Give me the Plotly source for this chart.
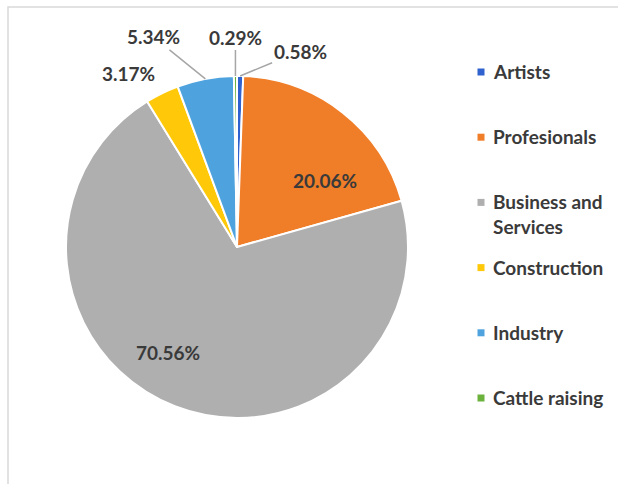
import math
import plotly.graph_objects as go

# Share of registered activities by sector (%)
categories = ["Artists", "Profesionals", "Business and Services",
              "Construction", "Industry", "Cattle raising"]
shares = [0.58, 20.06, 70.56, 3.17, 5.34, 0.29]
legend_labels = ["Artists", "Profesionals", "Business and<br>Services",
                 "Construction", "Industry", "Cattle raising"]
slice_colors = ["#2F62CF", "#F07D28", "#AFAFAF", "#FFC90A", "#4EA3DF", "#6AB23C"]

W, H = 618, 484
CX, CY, R = 237, 247, 171          # pie centre / radius in pixels
TEXT = "#3A3A3A"
FONT = "Lato"
FSIZE = 19

# label placement per slice: inside labels sit at a radial fraction,
# outside labels are offset from the rim (optionally with a leader line)
label_style = [
    dict(kind="out", ax=60, ay=-25, arrow=True),    # Artists
    dict(kind="in", frac=0.64, dx=20, dy=20),       # Profesionals
    dict(kind="in", frac=0.66, dx=-28, dy=0),       # Business and Services
    dict(kind="out", ax=-34, ay=-20, arrow=False),  # Construction
    dict(kind="out", ax=-52, ay=-42, arrow=True),   # Industry
    dict(kind="out", ax=0, ay=-39, arrow=True),     # Cattle raising
]

fig = go.Figure(go.Pie(
    labels=categories,
    values=shares,
    sort=False,
    direction="clockwise",
    rotation=0,
    marker=dict(colors=slice_colors, line=dict(color="white", width=2)),
    textinfo="none",
    hoverinfo="label+percent",
    showlegend=False,
    domain=dict(x=[(CX - R) / W, (CX + R) / W],
                y=[(H - CY - R) / H, (H - CY + R) / H]),
))


def to_paper(px, py):
    return px / W, 1 - py / H


label_font = dict(family=FONT, size=FSIZE, color=TEXT, weight="bold")

total = sum(shares)
start = 0.0
annotations = []
for val, st in zip(shares, label_style):
    span = val / total * 360.0
    mid = math.radians(start + span / 2)
    start += span
    text = f"{val:.2f}%"
    if st["kind"] == "in":
        px = CX + st["frac"] * R * math.sin(mid)
        py = CY - st["frac"] * R * math.cos(mid)
        x, y = to_paper(px + st["dx"], py + st["dy"])
        annotations.append(dict(x=x, y=y, xref="paper", yref="paper", text=text,
                                xanchor="center", yanchor="middle",
                                showarrow=False, font=label_font))
    else:
        px = CX + R * math.sin(mid)
        py = CY - R * math.cos(mid)
        x, y = to_paper(px, py)
        annotations.append(dict(x=x, y=y, xref="paper", yref="paper", text=text,
                                showarrow=True, ax=st["ax"], ay=st["ay"],
                                arrowhead=0, arrowwidth=1.5, standoff=0,
                                arrowcolor="#A6A6A6" if st["arrow"] else "rgba(0,0,0,0)",
                                font=label_font))

# legend drawn as colour squares with labels beside them
shapes = []
LEG_X, LEG_Y0, LEG_STEP, SQ = 481, 72, 65.2, 7
for i, (name, col) in enumerate(zip(legend_labels, slice_colors)):
    yc = LEG_Y0 + i * LEG_STEP
    x0, y0 = to_paper(LEG_X - SQ / 2, yc - SQ / 2)
    x1, y1 = to_paper(LEG_X + SQ / 2, yc + SQ / 2)
    shapes.append(dict(type="rect", xref="paper", yref="paper",
                       x0=x0, x1=x1, y0=y1, y1=y0,
                       fillcolor=col, line=dict(width=0)))
    tx, ty = to_paper(491, yc - 14)
    annotations.append(dict(x=tx, y=ty, xref="paper", yref="paper", text=name,
                            showarrow=False, xanchor="left", yanchor="top", align="left",
                            font=label_font))

# chart-area frame
fx0, fy0 = to_paper(8, 7)
shapes.append(dict(type="rect", xref="paper", yref="paper",
                   x0=fx0, y0=-0.2, x1=1.2, y1=fy0,
                   line=dict(color="#D9D9D9", width=1.5), fillcolor="rgba(0,0,0,0)"))

fig.update_layout(
    width=W, height=H,
    margin=dict(l=0, r=0, t=0, b=0),
    paper_bgcolor="white",
    plot_bgcolor="white",
    annotations=annotations,
    shapes=shapes,
)

fig.write_html("out.html")
